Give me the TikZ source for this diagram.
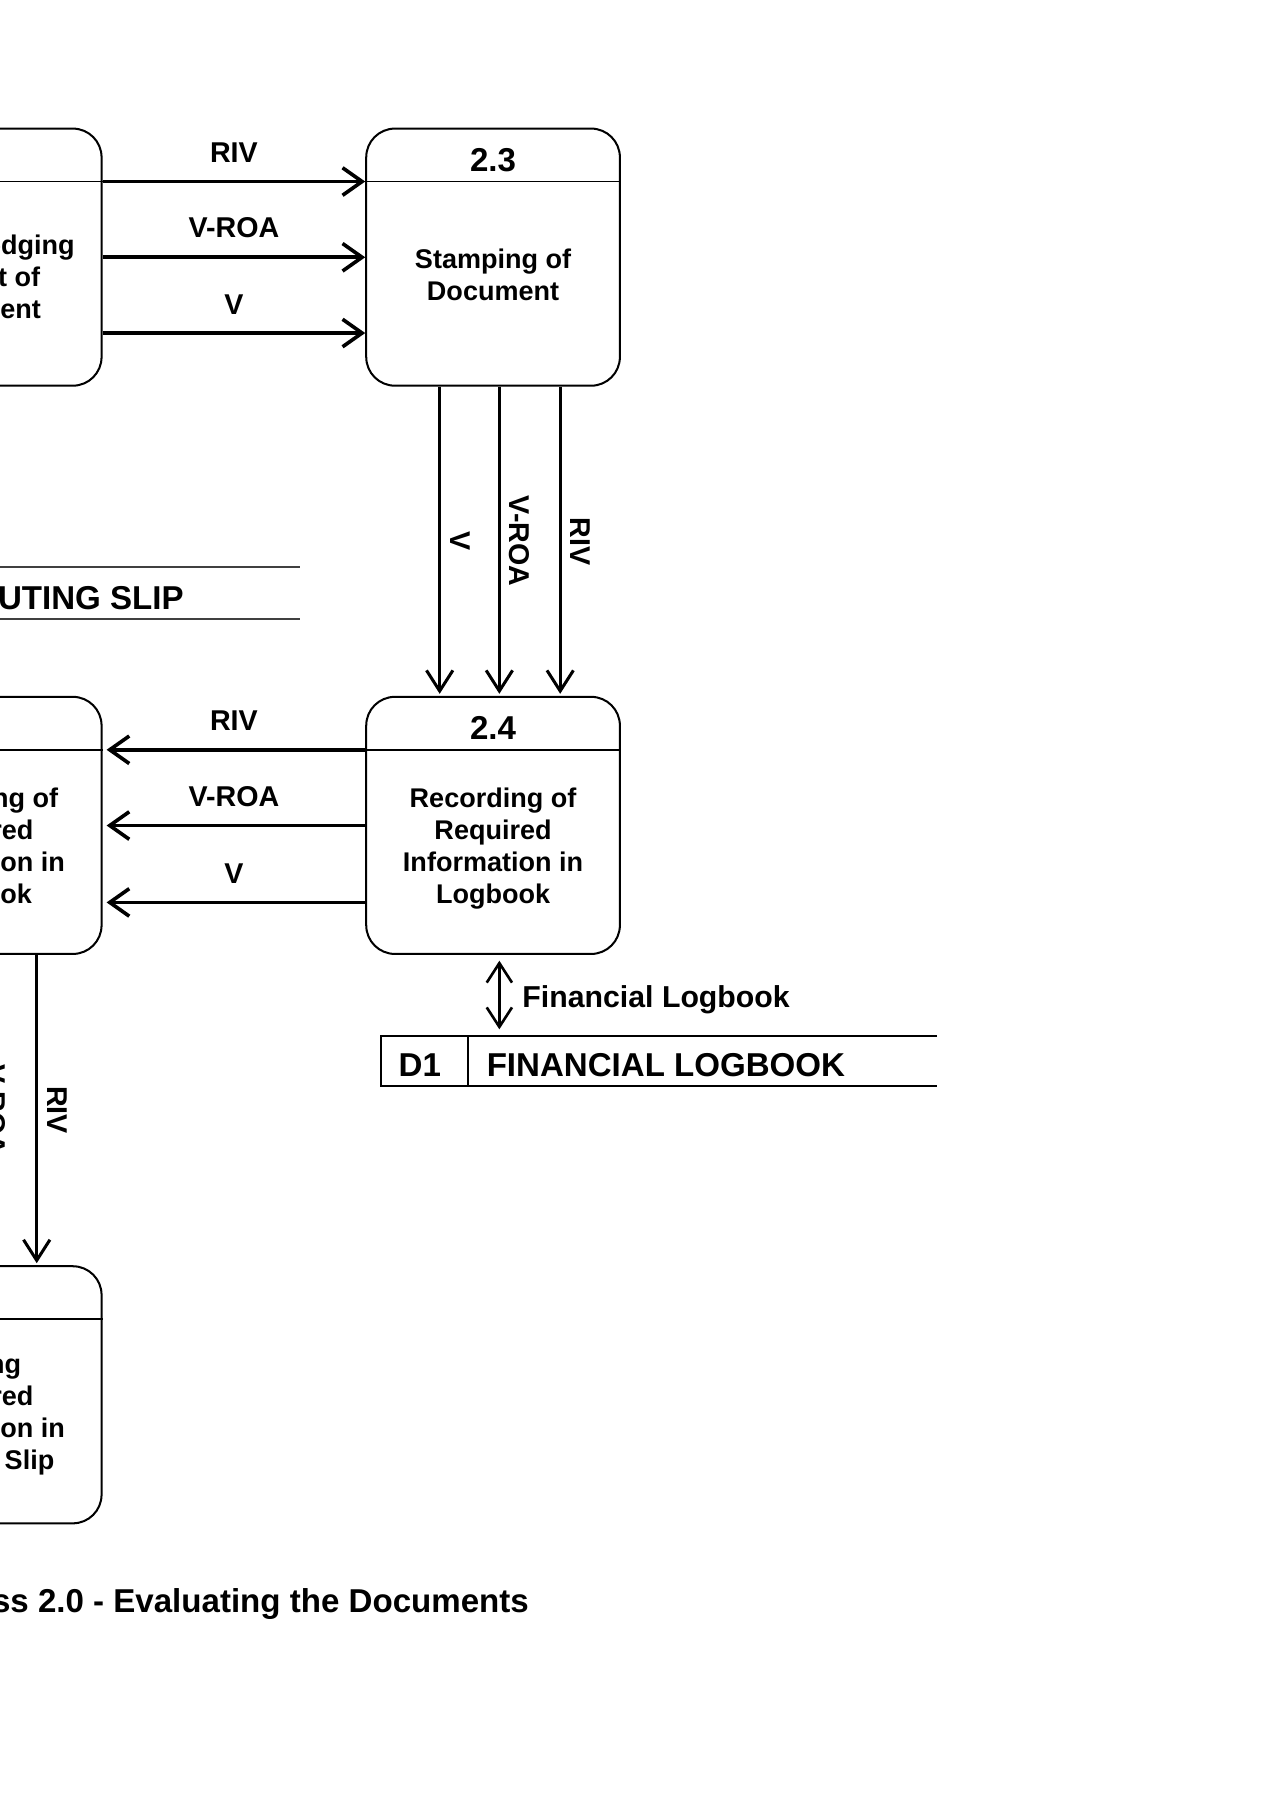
\documentclass[tikz,border=0pt]{standalone}
\usepackage{fontspec}
\setmainfont{Liberation Sans}
\usetikzlibrary{arrows.meta,positioning}

\tikzset{
  proc/.style={draw, line width=1pt, rounded corners=0.5cm,
    minimum width=4.42cm, minimum height=4.48cm, inner sep=0pt},
  proctext/.style={align=center, inner sep=0pt,
    font=\fontsize{13.4}{15.8}\selectfont\bfseries},
  numtext/.style={inner sep=0pt, font=\fontsize{16.4}{19}\selectfont\bfseries},
  lbl/.style={inner sep=0pt, font=\fontsize{14.2}{17}\selectfont\bfseries},
  vlbl/.style={lbl, rotate=-90, anchor=south, outer sep=0.18cm},
  storetext/.style={inner sep=0pt, font=\fontsize{16.4}{19}\selectfont\bfseries},
  flow/.style={line width=1.8pt, -{Straight Barb[length=3.4mm,width=4.8mm]}},
  vflow/.style={line width=1.5pt, shorten >=1pt,
    -{Straight Barb[length=3.6mm,width=4.6mm]}},
}

\begin{document}
\begin{tikzpicture}[x=0.02cm,y=-0.02cm]
  \useasboundingbox (0,0) rectangle (1108,1568);
  \clip (0,0) rectangle (1108,1568);
  % processes
  \node[proc] (p22) at (-22,224) {};
  \node[proc] (p23) at (429.5,224) {};
  \node[proc] (p24) at (429.5,719) {};
  \node[proc] (p25) at (-22,719) {};
  \node[proc] (p26) at (-22,1215) {};
  \foreach \p in {p22,p23,p24,p25,p26}
           {\draw [line width=.8pt] ([yshift=-.94cm]\p.north west) -- ([yshift=-.94cm]\p.north east);}
  \node[numtext] (n23) at ([yshift=-.56cm]p23.north) {2.3};
  \node[numtext] (n24) at ([yshift=-.56cm]p24.north) {2.4};
  \node[proctext] (t22) at ([yshift=-2.6cm]p22.north) {Acknowledging\\Receipt of\\Document};
  \node[proctext] (t23) at ([yshift=-2.56cm]p23.north) {Stamping of\\Document};
  \node[proctext] (t24) at ([yshift=-2.66cm]p24.north) {Recording of\\Required\\Information in\\Logbook};
  \node[proctext] (t25) at ([yshift=-2.66cm]p25.north) {Recording of\\Required\\Information in\\Logbook};
  \node[proctext] (t26) at ([yshift=-2.6cm]p26.north) {Writing\\Required\\Information in\\Routing Slip};
  %
  \foreach \dy/\txt in {.94/RIV,2.26/V-ROA,3.58/V}
           {\draw[flow] ([yshift=-\dy cm]p22.north east) -- ([yshift=-\dy cm]p23.north west)
              node[midway,above=.3cm,lbl] {\txt};}
  \foreach \dy/\txt in {.94/RIV,2.26/V-ROA,3.6/V}
           {\draw[flow,shorten >=2pt] ([yshift=-\dy cm]p24.north west) -- ([yshift=-\dy cm]p25.north east)
              node[midway,above=.3cm,lbl] {\txt};}
  \foreach \dx/\txt in {-.93/V,.11/V-ROA,1.17/RIV}
           {\draw[vflow] ([xshift=\dx cm]p23.south) -- ([xshift=\dx cm]p24.north)
              node[midway,vlbl] {\txt};}
  \foreach \dx/\txt in {0/V-ROA,1.08/RIV}
           {\draw[vflow] ([xshift=\dx cm]p25.south) -- ([xshift=\dx cm]p26.north)
              node[midway,vlbl] {\txt};}
  % data stores
  \node[minimum width=9.68cm, minimum height=.9cm, inner sep=0pt] (d2) at (19,516.5) {};
  \draw[line width=.8pt,black!75] (d2.north east) -- (d2.north west) -- (d2.south west) -- (d2.south east);
  \node[storetext,anchor=east] (d2name) at ([xshift=-2.02cm,yshift=-.09cm]d2.east) {ROUTING SLIP};
  %
  \node[minimum width=9.68cm, minimum height=.86cm, inner sep=0pt] (d1) at (574,924.5) {};
  \draw[line width=1pt] (d1.north east) -- (d1.north west) -- (d1.south west) -- (d1.south east);
  \draw[line width=1pt] ([xshift=1.52cm]d1.north west) -- ([xshift=1.52cm]d1.south west);
  \node[storetext] (d1id) at ([xshift=.68cm,yshift=-.06cm]d1.west) {D1};
  \node[storetext,anchor=west] (d1name) at ([xshift=1.84cm,yshift=-.06cm]d1.west) {FINANCIAL LOGBOOK};
  %
  \coordinate (fl) at ([xshift=.11cm]p24.south);
  \draw[line width=1.3pt, shorten <=.1cm, shorten >=.12cm,
        {Straight Barb[length=3.4mm,width=4.4mm]}-{Straight Barb[length=3.4mm,width=4.4mm]}]
        (fl) -- (fl |- d1.north) node[midway,right=.38cm,yshift=-.08cm,inner sep=0pt,
        font=\fontsize{15}{18}\selectfont\bfseries] {Financial Logbook};
  %
  \node[storetext,anchor=base east] (caption) at (461,1405) {Process 2.0 - Evaluating the Documents};
\end{tikzpicture}
\end{document}
